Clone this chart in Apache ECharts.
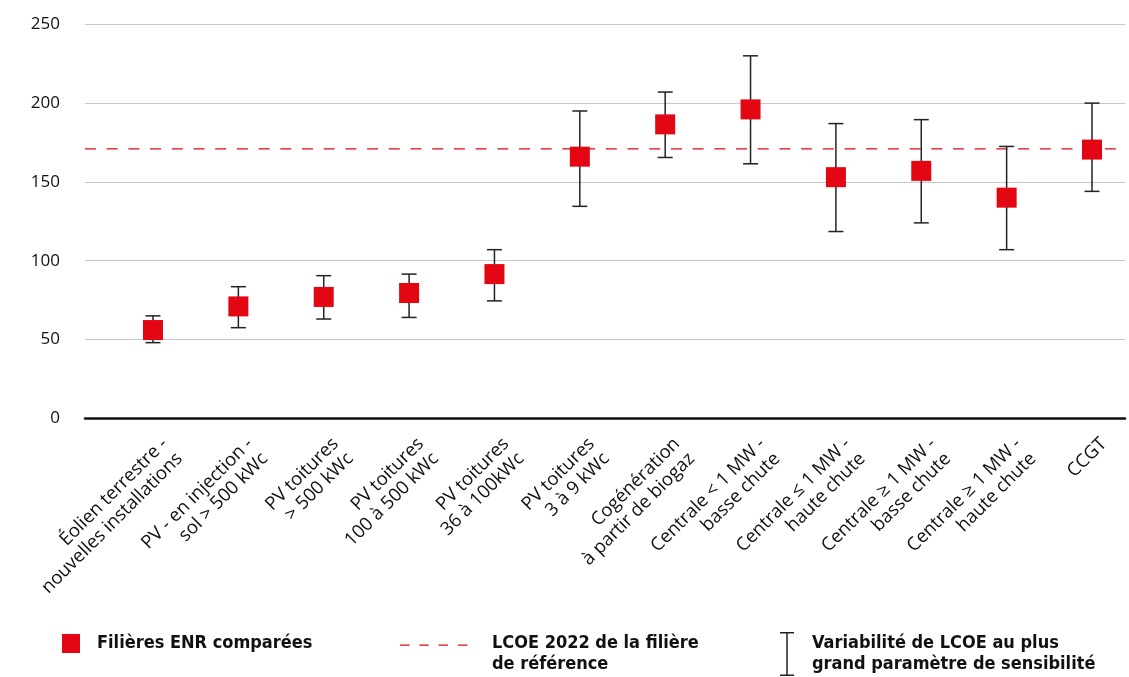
<!DOCTYPE html>
<html>
<head>
<meta charset="utf-8">
<script src="https://cdn.jsdelivr.net/npm/echarts@6/dist/echarts.min.js"></script>
<style>
html,body{margin:0;padding:0;background:#fff;}
#chart{width:1129px;height:677px;}
</style>
</head>
<body>
<div id="chart"></div>
<script>
// ---- data ----
const categories = [
  'Éolien terrestre -\nnouvelles installations',
  'PV - en injection -\nsol > 500 kWc',
  'PV toitures\n> 500 kWc',
  'PV toitures\n100 à 500 kWc',
  'PV toitures\n36 à 100kWc',
  'PV toitures\n3 à 9 kWc',
  'Cogénération\nà partir de biogaz',
  'Centrale < 1 MW -\nbasse chute',
  'Centrale ≤ 1 MW -\nhaute chute',
  'Centrale ≥ 1 MW -\nbasse chute',
  'Centrale ≥ 1 MW -\nhaute chute',
  'CCGT'
];
const lcoeValues = [56, 71, 77, 79.5, 91.5, 166, 186.5, 196, 153, 157, 140, 170.5];
const lowValues  = [48, 57.5, 63, 64, 74.5, 134.5, 165.5, 161.5, 118.5, 124, 107, 144];
const highValues = [65, 83.5, 90.5, 91.5, 107, 195, 207, 230, 187, 189.5, 172.5, 200];
const referenceLcoe = 171;
const yTicks = {min: 0, max: 250, interval: 50};

const nameMarkers = 'Filières ENR comparées';
const nameRef = 'LCOE 2022 de la filière\nde référence';
const nameVar = 'Variabilité de LCOE au plus\ngrand paramètre de sensibilité';

// ---- chart ----
const RED = '#e30613';
const chart = echarts.init(document.getElementById('chart'), null, {renderer: 'canvas'});
const labelFont = '"Open Sans", Lato, sans-serif';
const legendFont = '"DejaVu Sans Condensed", "Roboto", sans-serif';
const legendText = {fontFamily: legendFont, fontWeight: 'bold', fontSize: 18, color: '#111', lineHeight: 21};

const option = {
  backgroundColor: '#ffffff',
  animation: false,
  grid: [
    {left: 85, right: 4, top: 24.3, height: 394},
    {left: 153, right: 37, top: 24.3, height: 394}
  ],
  xAxis: [
    {type: 'value', gridIndex: 0, min: 0, max: 1,
     axisLine: {show: true, onZero: false, lineStyle: {color: '#111', width: 2.5}},
     axisTick: {show: false}, axisLabel: {show: false}, splitLine: {show: false}},
    {type: 'category', gridIndex: 1, data: categories, boundaryGap: false,
     axisLine: {show: false}, axisTick: {show: false}, splitLine: {show: false},
     axisLabel: {interval: 0, rotate: 45, margin: 11, fontSize: 18.5, color: '#111',
                 fontFamily: labelFont, lineHeight: 21, align: 'right', verticalAlign: 'top',
                 padding: [6, 0, 0, 0]}}
  ],
  yAxis: [
    {type: 'value', gridIndex: 0, min: yTicks.min, max: yTicks.max, interval: yTicks.interval,
     axisLine: {show: false}, axisTick: {show: false},
     axisLabel: {margin: 25, fontSize: 17, color: '#111', fontFamily: labelFont},
     splitLine: {lineStyle: {color: '#c8c8c8', width: 1}}},
    {type: 'value', gridIndex: 1, min: yTicks.min, max: yTicks.max, interval: yTicks.interval, show: false}
  ],
  legend: [
    {data: [nameMarkers], left: 62, top: 633, padding: 0, icon: 'rect', itemWidth: 18, itemHeight: 19,
     selectedMode: false,
     textStyle: Object.assign({}, legendText, {padding: [0, 0, 0, 12]})},
    {data: [nameRef], left: 400, top: 633, padding: 0, itemWidth: 67.5, itemHeight: 42,
     selectedMode: false,
     icon: 'path://M0,0h0.05v0.05h-0.05z M0,11.4h9.5v1.3h-9.5z M19.3,11.4h9.5v1.3h-9.5z M38.6,11.4h9.5v1.3h-9.5z M57.9,11.4h9.5v1.3h-9.5z M67.4,41.95h0.05v0.05h-0.05z',
     textStyle: Object.assign({}, legendText, {padding: [0, 0, 0, 19.5]})},
    {data: [nameVar], left: 780, top: 632, padding: 0, itemWidth: 14, itemHeight: 44,
     selectedMode: false,
     icon: 'path://M0,0h14v1.5h-6.25v41h6.25v1.5h-14v-1.5h6.25v-41h-6.25z',
     textStyle: Object.assign({}, legendText, {padding: [0, 0, 0, 13]})}
  ],
  series: [
    {name: nameRef, type: 'line', xAxisIndex: 0, yAxisIndex: 0, z: 1,
     data: [[0, referenceLcoe], [1, referenceLcoe]], symbol: 'none', silent: true,
     itemStyle: {color: RED},
     lineStyle: {color: RED, width: 1.3, type: [11, 10.7]}},
    {name: nameVar, type: 'custom', xAxisIndex: 1, yAxisIndex: 1, z: 2,
     itemStyle: {color: '#222'},
     data: categories.map((c, i) => [i, lowValues[i], highValues[i]]),
     renderItem: function (params, api) {
       const lo = api.coord([api.value(0), api.value(1)]);
       const hi = api.coord([api.value(0), api.value(2)]);
       const half = 7.5;
       const st = {stroke: '#222', lineWidth: 1.5};
       return {type: 'group', children: [
         {type: 'line', shape: {x1: lo[0], y1: lo[1], x2: hi[0], y2: hi[1]}, style: st},
         {type: 'line', shape: {x1: lo[0] - half, y1: lo[1], x2: lo[0] + half, y2: lo[1]}, style: st},
         {type: 'line', shape: {x1: hi[0] - half, y1: hi[1], x2: hi[0] + half, y2: hi[1]}, style: st}
       ]};
     }},
    {name: nameMarkers, type: 'scatter', xAxisIndex: 1, yAxisIndex: 1, z: 3,
     data: lcoeValues, symbol: 'rect', symbolSize: 20,
     itemStyle: {color: RED, opacity: 1}}
  ]
};
chart.setOption(option);
</script>
</body>
</html>
